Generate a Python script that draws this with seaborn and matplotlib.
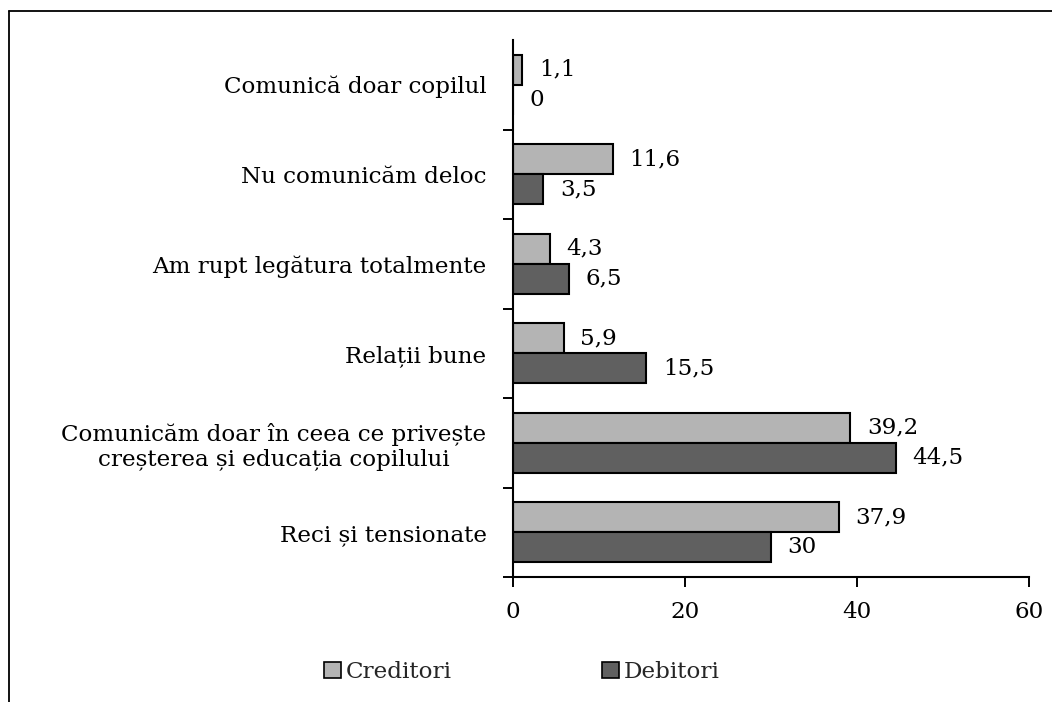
"""
Relațiile dintre părinți după divorț: creditori vs. debitori (horizontal bars).
"""

import matplotlib

matplotlib.use("Agg")
import matplotlib.pyplot as plt
import pandas as pd
import seaborn as sns
from matplotlib.lines import Line2D
from matplotlib.patches import Patch

CATEGORIES = [
    "Comunică doar copilul",
    "Nu comunicăm deloc",
    "Am rupt legătura totalmente",
    "Relații bune",
    "Comunicăm doar în ceea ce privește\ncreșterea și educația copilului",
    "Reci și tensionate",
]
SERIES = ["Creditori", "Debitori"]
CREDITORI = [1.1, 11.6, 4.3, 5.9, 39.2, 37.9]
DEBITORI = [0, 3.5, 6.5, 15.5, 44.5, 30]
X_TICKS = [0, 20, 40, 60]
COLORS = ["#b4b4b4", "#606060"]

sns.set_theme(style="white")
plt.rcParams["font.family"] = ["DejaVu Serif"]
FS = 16.6

df = pd.DataFrame({
    "categorie": CATEGORIES * 2,
    "grup": [SERIES[0]] * len(CATEGORIES) + [SERIES[1]] * len(CATEGORIES),
    "valoare": CREDITORI + DEBITORI,
})

fig = plt.figure(figsize=(10.52, 7.02), dpi=100)
ax = fig.add_axes([513 / 1052, 1 - 577 / 702, (1029 - 513) / 1052, (577 - 40) / 702])

sns.barplot(
    data=df, y="categorie", x="valoare", hue="grup", order=CATEGORIES,
    hue_order=SERIES, palette=COLORS, orient="h", width=0.67,
    edgecolor="black", linewidth=1.5, saturation=1, legend=False, ax=ax,
)

for cont in ax.containers:
    labels = [f"{w:g}".replace(".", ",") for w in cont.datavalues]
    ax.bar_label(cont, labels=labels, padding=12, fontsize=FS, color="black")

ax.set_xlim(0, 60)
ax.set_ylim(len(CATEGORIES) - 0.5, -0.5)
ax.set_xticks(X_TICKS)
ax.set_xlabel("")
ax.set_ylabel("")

for side in ("top", "right"):
    ax.spines[side].set_visible(False)
for side in ("left", "bottom"):
    ax.spines[side].set_color("black")
    ax.spines[side].set_linewidth(1.5)

ax.tick_params(axis="x", which="major", direction="out", length=7, width=1.4,
               color="black", labelsize=FS, pad=10, bottom=True)
ax.tick_params(axis="y", which="major", length=0, labelsize=FS, pad=19)
ax.set_yticks([i + 0.5 for i in range(len(CATEGORIES))], minor=True)
ax.tick_params(axis="y", which="minor", direction="out", length=7, width=1.4,
               color="black", left=True)
for lbl in ax.get_yticklabels():
    lbl.set_horizontalalignment("right")
    lbl.set_multialignment("center")
ax.tick_params(axis="both", colors="black")

handles = [Patch(facecolor=c, edgecolor="black", linewidth=1.2) for c in COLORS]
fig.legend(handles, SERIES, loc="center", bbox_to_anchor=(0.496, 1 - 672 / 702),
           ncol=2, frameon=False, fontsize=FS, handlelength=0.75, handleheight=0.75,
           handletextpad=0.2, columnspacing=6.5)

# chart-area frame: only the top and left edges fall inside the image
x0, y0 = 9.5 / 1052, 1 - 10.5 / 702
fig.lines.append(Line2D([x0, 1], [y0, y0], transform=fig.transFigure,
                        color="black", linewidth=1.3))
fig.lines.append(Line2D([x0, x0], [0, y0], transform=fig.transFigure,
                        color="black", linewidth=1.3))

fig.savefig("out.png", dpi=100)
